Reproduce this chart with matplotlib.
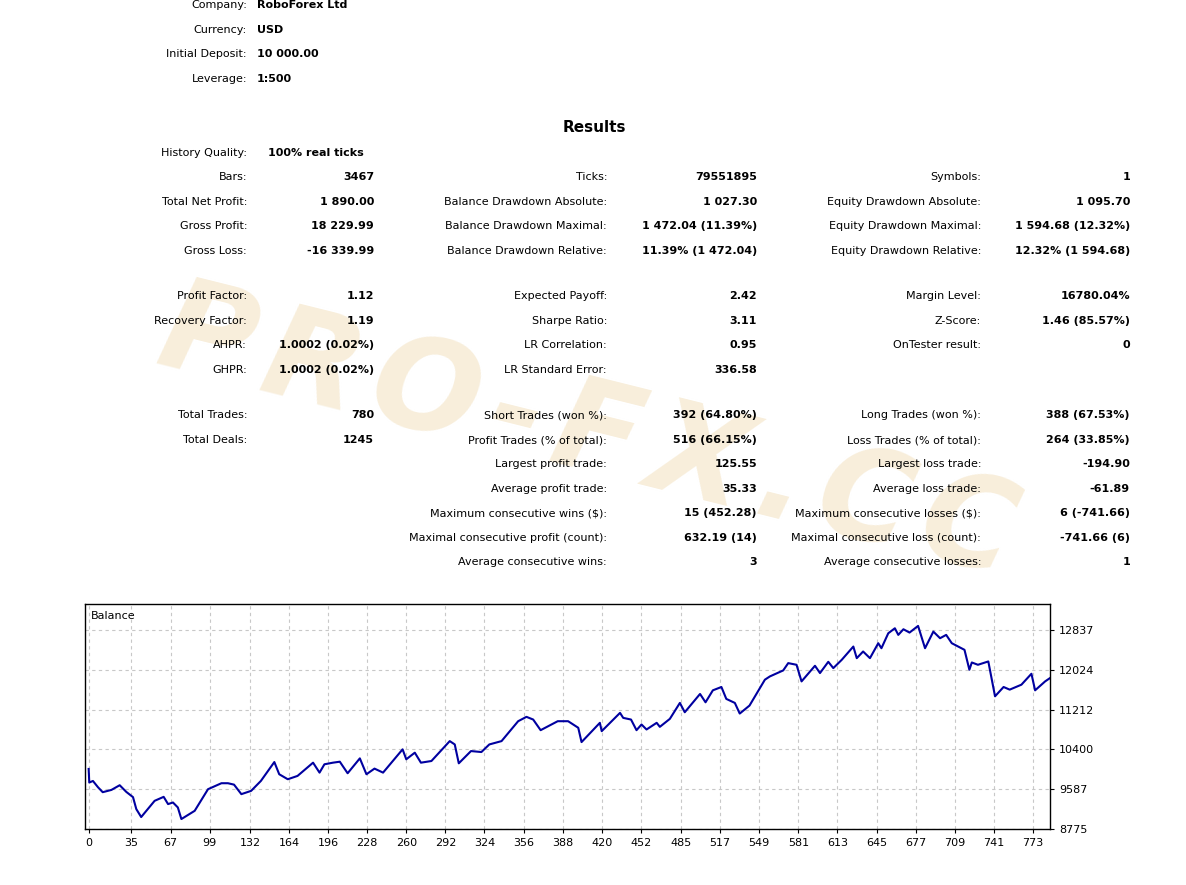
import matplotlib
matplotlib.use("Agg")
import matplotlib.pyplot as plt

# ---------------------------------------------------------------
# Report data
header_labels = ["Company:", "Currency:", "Initial Deposit:", "Leverage:"]
header_values = ["RoboForex Ltd", "USD", "10 000.00", "1:500"]

col1 = [("History Quality:", "100% real ticks"), ("Bars:", "3467"), ("Total Net Profit:", "1 890.00"),
        ("Gross Profit:", "18 229.99"), ("Gross Loss:", "-16 339.99"), None,
        ("Profit Factor:", "1.12"), ("Recovery Factor:", "1.19"), ("AHPR:", "1.0002 (0.02%)"),
        ("GHPR:", "1.0002 (0.02%)"), None, ("Total Trades:", "780"), ("Total Deals:", "1245")]
col2 = [None, ("Ticks:", "79551895"), ("Balance Drawdown Absolute:", "1 027.30"),
        ("Balance Drawdown Maximal:", "1 472.04 (11.39%)"), ("Balance Drawdown Relative:", "11.39% (1 472.04)"), None,
        ("Expected Payoff:", "2.42"), ("Sharpe Ratio:", "3.11"), ("LR Correlation:", "0.95"),
        ("LR Standard Error:", "336.58"), None, ("Short Trades (won %):", "392 (64.80%)"),
        ("Profit Trades (% of total):", "516 (66.15%)"), ("Largest profit trade:", "125.55"),
        ("Average profit trade:", "35.33"), ("Maximum consecutive wins ($):", "15 (452.28)"),
        ("Maximal consecutive profit (count):", "632.19 (14)"), ("Average consecutive wins:", "3")]
col3 = [None, ("Symbols:", "1"), ("Equity Drawdown Absolute:", "1 095.70"),
        ("Equity Drawdown Maximal:", "1 594.68 (12.32%)"), ("Equity Drawdown Relative:", "12.32% (1 594.68)"), None,
        ("Margin Level:", "16780.04%"), ("Z-Score:", "1.46 (85.57%)"), ("OnTester result:", "0"),
        None, None, ("Long Trades (won %):", "388 (67.53%)"),
        ("Loss Trades (% of total):", "264 (33.85%)"), ("Largest loss trade:", "-194.90"),
        ("Average loss trade:", "-61.89"), ("Maximum consecutive losses ($):", "6 (-741.66)"),
        ("Maximal consecutive loss (count):", "-741.66 (6)"), ("Average consecutive losses:", "1")]

# Balance curve (trade number, balance)
trade = [0, 0.5, 3.5, 7.6, 11.5, 18.6, 25.4, 30.8, 36.3, 39, 43, 54, 61.4, 65, 69, 73, 75.9, 86.8, 97.7,
         108.7, 114, 119, 125, 133, 141, 152, 156, 163, 171, 183.7, 189, 193, 200, 205.6, 212, 222, 227.4,
         234, 241, 257, 260, 267, 272, 280.6, 295.6, 299.7, 303, 313, 321.5, 328, 338, 351.6, 358.4, 363.9,
         370, 384, 392.5, 400.8, 403.5, 418.5, 420, 435, 437.6, 444, 448.5, 452.6, 456.7, 465, 467.6, 475.8,
         484, 488, 500.5, 505, 511, 518, 522, 529, 533, 541, 553.6, 557.7, 568.6, 572.7, 579.5, 583.6, 594.6,
         598.7, 605.5, 609.6, 616.5, 626, 628.8, 634, 639.6, 646.4, 649, 654.6, 660, 662.8, 667, 672, 679,
         684.7, 691.5, 697, 702, 706.6, 717, 721, 723, 728, 736.5, 742, 749, 754, 763.6, 771.8, 774.8, 783, 787]
balance = [10000, 9723, 9755, 9628, 9526, 9572, 9668, 9532, 9425, 9181, 9019, 9350, 9431, 9283, 9316, 9215,
           8978, 9146, 9587, 9709, 9709, 9680, 9486, 9553, 9756, 10141, 9892, 9790, 9858, 10128, 9925, 10095,
           10128, 10148, 9912, 10216, 9892, 10007, 9925, 10400, 10197, 10332, 10128, 10162, 10568, 10500,
           10115, 10365, 10345, 10500, 10568, 10974, 11063, 11008, 10791, 10974, 10974, 10840, 10548, 10941,
           10771, 11144, 11042, 11008, 10791, 10907, 10805, 10941, 10859, 11022, 11347, 11157, 11530, 11360,
           11604, 11672, 11429, 11347, 11130, 11293, 11821, 11888, 12010, 12159, 12125, 11786, 12105, 11956,
           12186, 12057, 12226, 12497, 12260, 12396, 12260, 12565, 12463, 12768, 12870, 12735, 12850, 12782,
           12918, 12463, 12802, 12667, 12735, 12565, 12430, 12024, 12172, 12125, 12193, 11482, 11672, 11618,
           11719, 11942, 11604, 11786, 11854]
xticks = [0, 35, 67, 99, 132, 164, 196, 228, 260, 292, 324, 356, 388, 420, 452, 485, 517, 549, 581, 613,
          645, 677, 709, 741, 773]
yticks = [8775, 9587, 10400, 11212, 12024, 12837]

# ---------------------------------------------------------------
W, H = 1186, 885
fig = plt.figure(figsize=(W / 100, H / 100), dpi=100)
fs = 8


def T(x, y, s, **kw):
    kw.setdefault("fontsize", fs)
    kw.setdefault("va", "center")
    fig.text(x / W, 1 - y / H, s, **kw)


# watermark
T(588, 435, "\u200a".join("PRO-FX.CC"), fontsize=92, weight="bold", style="italic", color="#f8eedb",
  ha="center", rotation=-14, zorder=0)

for i, (l, v) in enumerate(zip(header_labels, header_values)):
    y = 5 + i * 24.7
    T(247, y, l, ha="right")
    T(257, y, v, ha="left", weight="bold")

T(594, 127, "Results", ha="center", weight="bold", fontsize=11)

rows_y = [153, 177, 202, 226, 251, 273, 296, 321, 345, 370, 392, 415, 440, 464, 489, 513, 538, 562]
for col, lx, vx in [(col1, 247, 374), (col2, 607, 757), (col3, 981, 1130)]:
    for row, y in zip(col, rows_y):
        if row is None:
            continue
        T(lx, y, row[0], ha="right")
        if row[0] == "History Quality:":
            T(268, y, row[1], ha="left", weight="bold")
        else:
            T(vx, y, row[1], ha="right", weight="bold")

# balance chart
ax = fig.add_axes([85 / W, 1 - 829 / H, (1050 - 85) / W, (829 - 604) / H])
ax.plot(trade, balance, color="#0000a0", lw=1.5)
ax.set_xlim(-3, 787)
ax.set_ylim(8775, 13365)
ax.set_xticks(xticks)
ax.set_yticks(yticks)
ax.yaxis.tick_right()
ax.tick_params(labelsize=fs, length=3, direction="out")
ax.grid(True, color="#c8c8c8", linestyle=(0, (3, 3)), lw=0.8)
for s in ax.spines.values():
    s.set_linewidth(1)
ax.text(0.006, 0.97, "Balance", transform=ax.transAxes, fontsize=fs, va="top", ha="left")

fig.savefig("out.png", dpi=100, facecolor="white")
